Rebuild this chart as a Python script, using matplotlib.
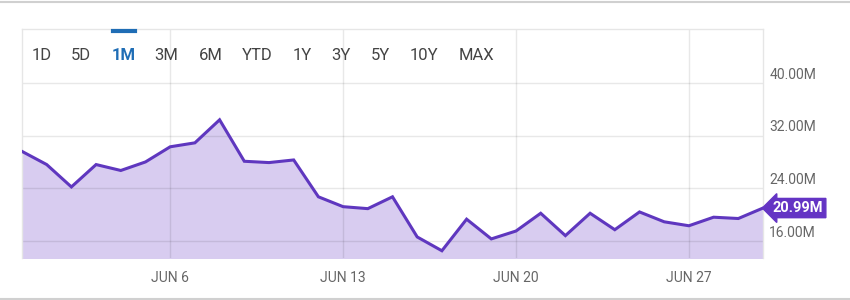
import numpy as np
import pandas as pd
import matplotlib
matplotlib.use("Agg")
import matplotlib.pyplot as plt

plt.rcParams['font.family'] = ['Roboto', 'DejaVu Sans']

# daily volume, May 31 - Jun 30 (millions)
dates = pd.date_range('2023-05-31', '2023-06-30', freq='D')
volume = [29.6, 27.6, 24.2, 27.6, 26.7, 28.0, 30.3, 30.9, 34.4, 28.1,
          27.9, 28.3, 22.7, 21.2, 20.9, 22.7, 16.6, 14.5, 19.3, 16.3,
          17.5, 20.2, 16.8, 20.2, 17.7, 20.4, 18.9, 18.3, 19.6, 19.4,
          20.99]
yticks = [16, 24, 32, 40]
xtick_days = ['2023-06-06', '2023-06-13', '2023-06-20', '2023-06-27']
xtick_labels = ['JUN 6', 'JUN 13', 'JUN 20', 'JUN 27']
ranges = ['1D', '5D', '1M', '3M', '6M', 'YTD', '1Y', '3Y', '5Y', '10Y', 'MAX']
range_x = [42, 81, 124, 166, 211, 257, 302, 341, 380, 424, 476]  # pixel centres
active = '1M'

line_c = '#5f37bf'
fill_c = '#d8ccf0'

fig = plt.figure(figsize=(8.5, 3.0), dpi=100)
W, H = 850, 300
ax = fig.add_axes([22 / W, (H - 258) / H, (763 - 22) / W, (258 - 29) / H])

ax.fill_between(dates, volume, 0, color=fill_c, lw=0, zorder=1)
ax.plot(dates, volume, color=line_c, lw=2.2, solid_joinstyle='miter', zorder=3)

ax.set_xlim(dates[0], dates[-1])
ax.set_ylim(13.4, 48.2)

# grid drawn over the fill, faint so it shows through
for v in yticks:
    ax.axhline(v, color='black', alpha=0.09, lw=1, zorder=2)
    ax.annotate(f"{v:.2f}M", xy=(1, v), xycoords=('axes fraction', 'data'),
                xytext=(4.5, 6), textcoords='offset points', va='center', ha='left',
                fontsize=10, color='#666666')
for d in xtick_days:
    ax.axvline(pd.Timestamp(d), color='black', alpha=0.09, lw=1, zorder=2)
ax.set_xticks([pd.Timestamp(d) for d in xtick_days])
ax.set_xticklabels(xtick_labels, fontsize=10, color='#666666')
ax.tick_params(axis='x', length=0, pad=9)
ax.set_yticks([])

ax.spines['bottom'].set_visible(False)
for s in ['top', 'left', 'right']:
    ax.spines[s].set_color('#e6e6e6')
    ax.spines[s].set_linewidth(1)

# last value tag
ax.annotate(f"{volume[-1]:.2f}M", xy=(1, volume[-1]), xycoords=('axes fraction', 'data'),
            xytext=(7, 0), textcoords='offset points', va='center', ha='left',
            fontsize=10.5, fontweight='bold', color='white',
            bbox=dict(boxstyle='larrow,pad=0.18', fc='#6434c4', ec='#6434c4'))

# range selector
for lab, px in zip(ranges, range_x):
    on = lab == active
    fig.text(px / W, 1 - 55 / H, lab, ha='center', va='center', fontsize=12,
             color='#1f6db5' if on else '#444444', fontweight='bold' if on else 'normal')
fig.add_artist(plt.Line2D([113 / W, 135 / W], [1 - 30.5 / H, 1 - 30.5 / H],
                          color='#1f6db5', lw=3))

# outer frame lines
fig.add_artist(plt.Line2D([0, 1], [1 - 1.5 / H, 1 - 1.5 / H], color='#d0d0d0', lw=1.5))
fig.add_artist(plt.Line2D([0, 1], [1.5 / H, 1.5 / H], color='#d0d0d0', lw=1.5))

fig.savefig('out.png', dpi=100)
